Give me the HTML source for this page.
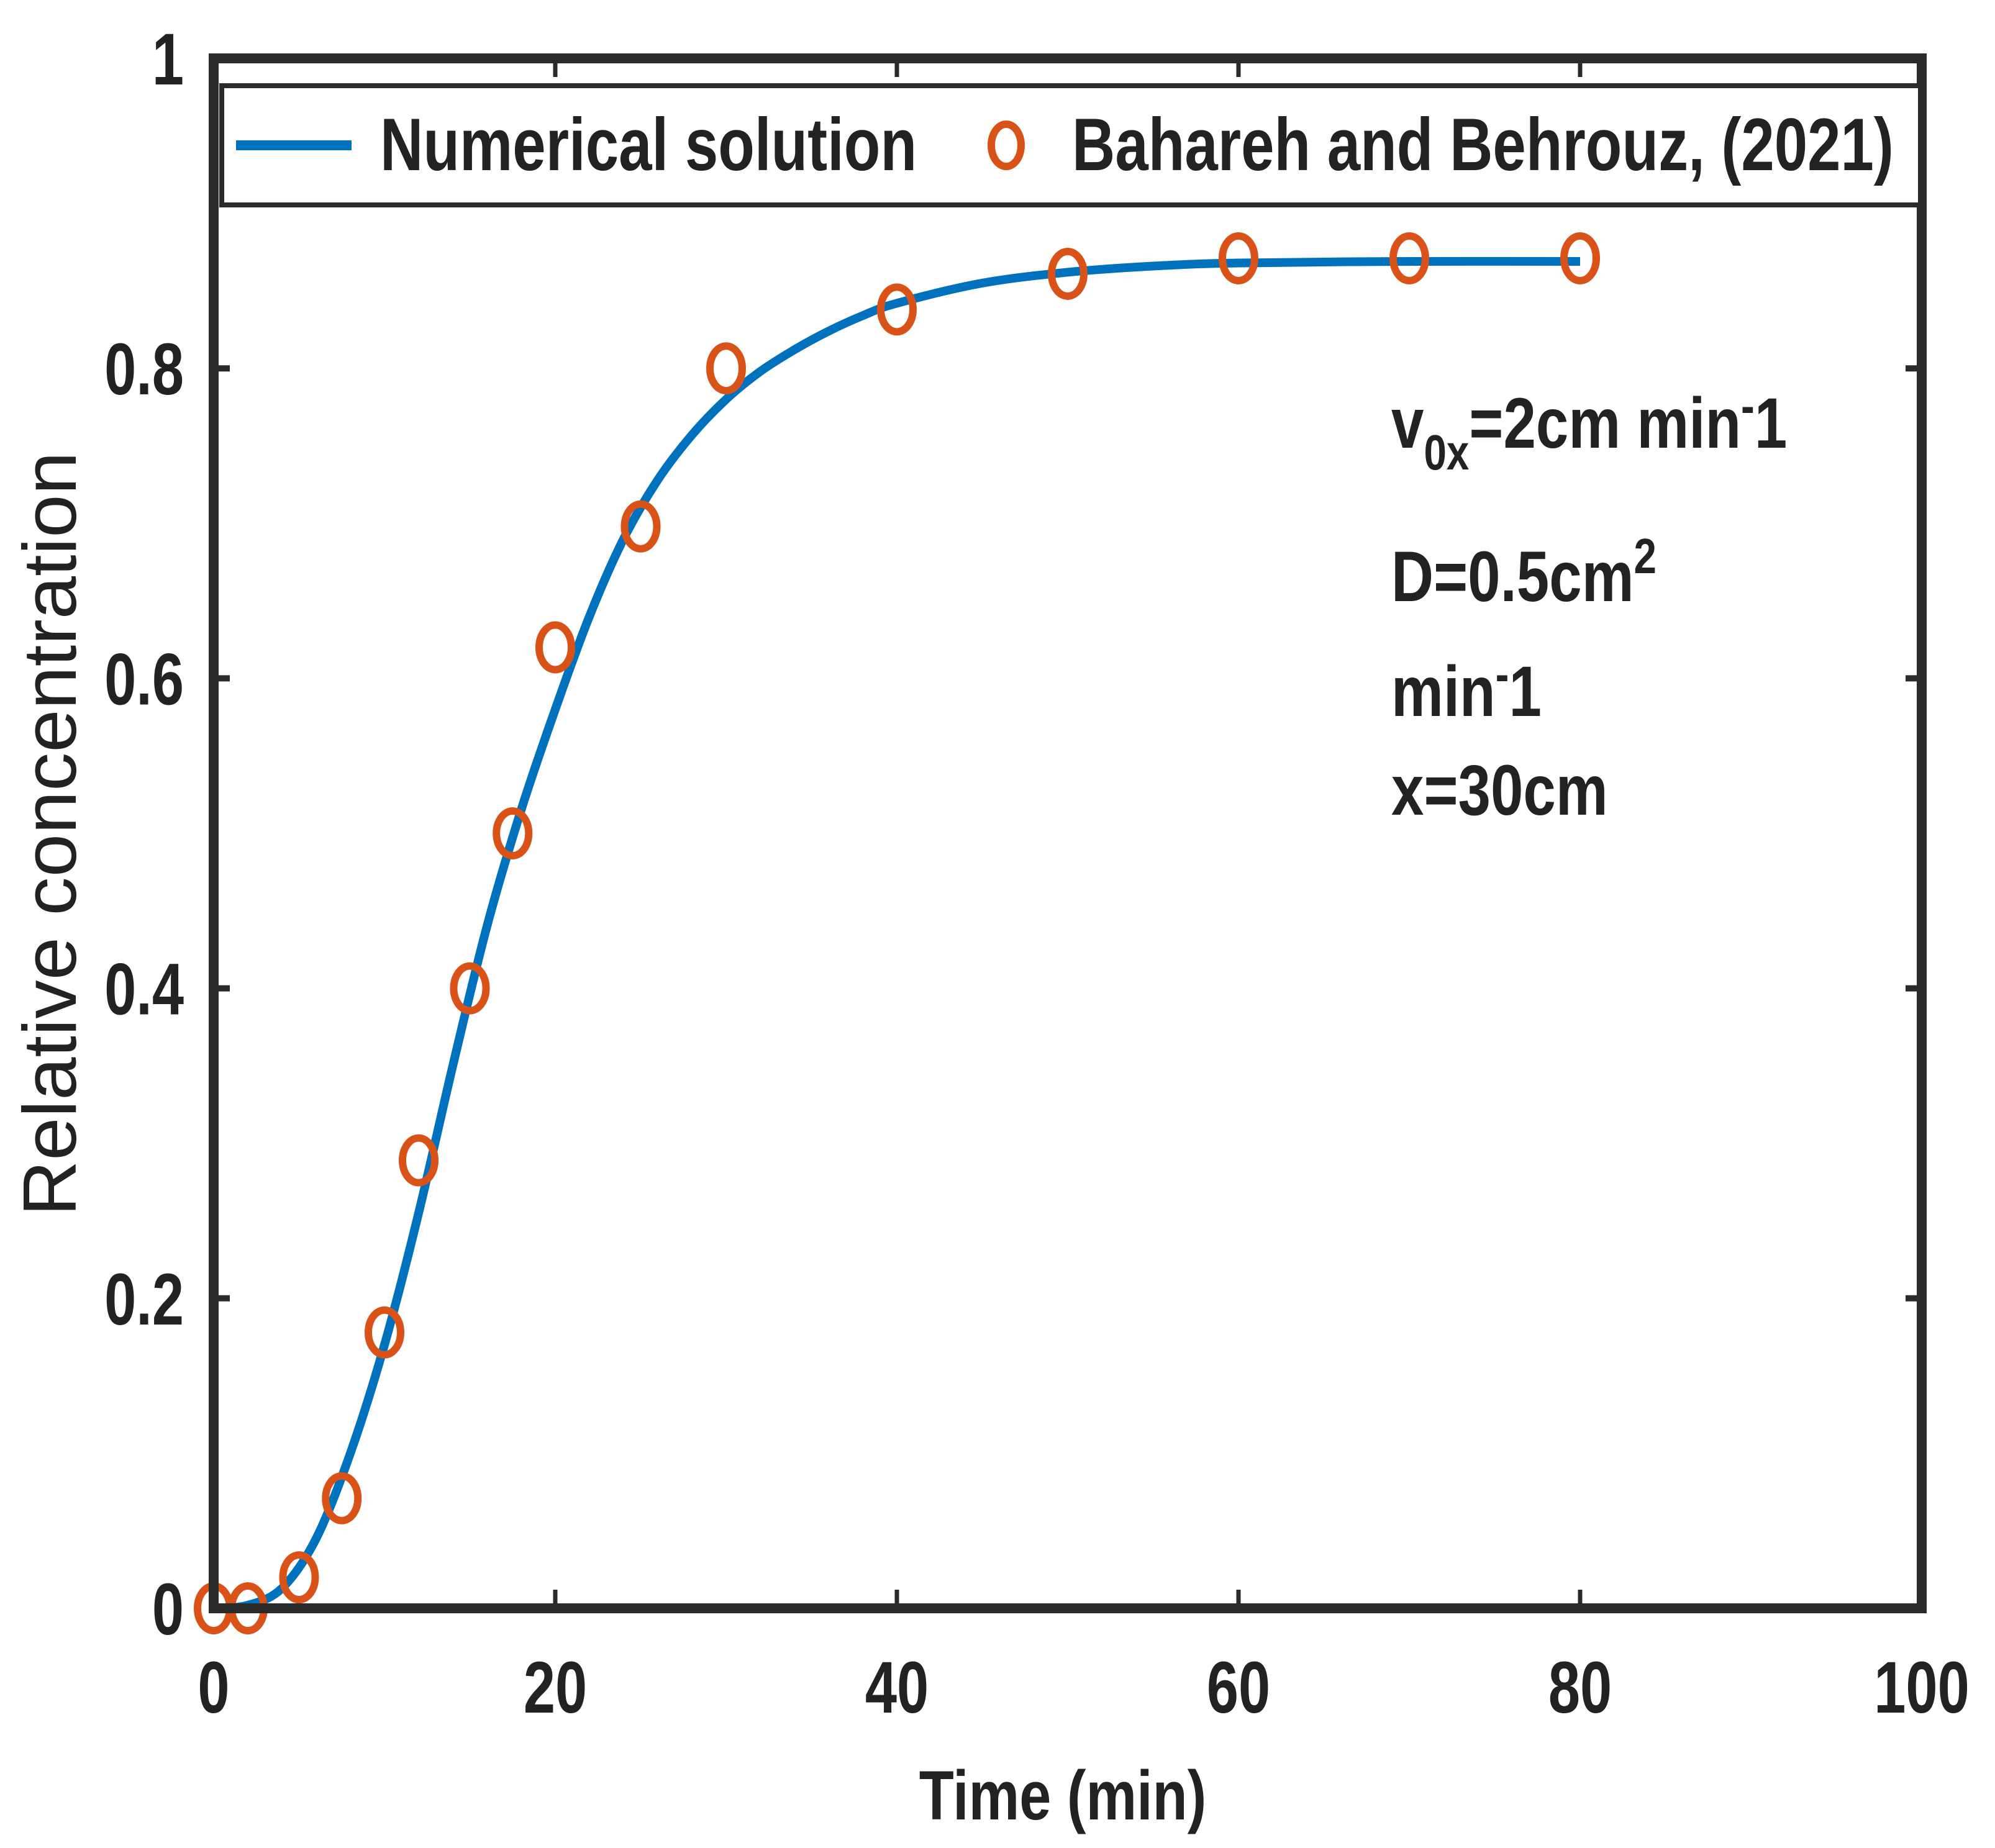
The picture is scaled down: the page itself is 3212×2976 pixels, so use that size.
<!DOCTYPE html>
<html><head><meta charset="utf-8"><style>
html,body{margin:0;padding:0;background:#fff;}
svg{display:block;}
text{font-family:"Liberation Sans",Arial,sans-serif;font-weight:bold;fill:#222;}
</style></head><body>
<svg id="chart" width="3212" height="2976" viewBox="0 0 3212 2976" xmlns="http://www.w3.org/2000/svg">
<g id="plot"></g>
</svg>
<script>
const xTicks = [0, 20, 40, 60, 80, 100];
const yTicks = [0, 0.2, 0.4, 0.6, 0.8, 1];
const yTickLabels = ["0", "0.2", "0.4", "0.6", "0.8", "1"];
const curveX = [0, 2, 4, 6, 8, 10, 12, 14, 16, 18, 20, 22, 24, 26, 28, 30, 32, 34, 36, 38, 40, 45, 50, 55, 60, 70, 80];
const curveY = [0, 0.002, 0.013, 0.045, 0.1, 0.17, 0.255, 0.35, 0.44, 0.515, 0.58, 0.64, 0.69, 0.728, 0.757, 0.78, 0.798, 0.812, 0.824, 0.834, 0.842, 0.855, 0.862, 0.866, 0.868, 0.869, 0.869];
const ptX = [0, 2, 5, 7.5, 10, 12, 15, 17.5, 20, 25, 30, 40, 50, 60, 70, 80];
const ptY = [0, 0, 0.02, 0.071, 0.178, 0.289, 0.40, 0.50, 0.62, 0.698, 0.80, 0.838, 0.861, 0.871, 0.871, 0.871];

const L = 344, R = 3094, T = 94, B = 2590;
const sx = v => L + (v - 0) / 100 * (R - L);
const sy = v => B - v * (B - T);
const NS = "http://www.w3.org/2000/svg";
const g = document.getElementById('plot');
function mk(tag, attrs, parent) {
  const e = document.createElementNS(NS, tag);
  for (const k in attrs) e.setAttribute(k, attrs[k]);
  (parent || g).appendChild(e);
  return e;
}

// smooth curve (Catmull-Rom)
const P = curveX.map((x, i) => [sx(x), sy(curveY[i])]);
let d = 'M' + P[0][0].toFixed(1) + ' ' + P[0][1].toFixed(1);
for (let i = 0; i < P.length - 1; i++) {
  const p0 = P[Math.max(0, i - 1)], p1 = P[i], p2 = P[i + 1], p3 = P[Math.min(P.length - 1, i + 2)];
  const c1 = [p1[0] + (p2[0] - p0[0]) / 6, p1[1] + (p2[1] - p0[1]) / 6];
  const c2 = [p2[0] - (p3[0] - p1[0]) / 6, p2[1] - (p3[1] - p1[1]) / 6];
  d += ` C${c1[0].toFixed(1)} ${c1[1].toFixed(1)} ${c2[0].toFixed(1)} ${c2[1].toFixed(1)} ${p2[0].toFixed(1)} ${p2[1].toFixed(1)}`;
}
const path = mk('path', {d: d, fill: 'none', stroke: '#0072BD', 'stroke-width': 14, 'stroke-linejoin': 'round'});



// points
ptX.forEach((x, i) => {
  const c = mk('ellipse', {cx: sx(x), cy: sy(ptY[i]), rx: 26, ry: 36, fill: 'none', stroke: '#D95319', 'stroke-width': 12});
  
  
});

// axes box
const box = mk('rect', {x: L, y: T, width: R - L, height: B - T, fill: 'none', stroke: '#2a2a2a', 'stroke-width': 16});



// x ticks
xTicks.forEach(v => {
  const x = sx(v);
  mk('line', {x1: x, y1: B, x2: x, y2: B - 30, stroke: '#2a2a2a', 'stroke-width': 7});
  mk('line', {x1: x, y1: T, x2: x, y2: T + 30, stroke: '#2a2a2a', 'stroke-width': 7});
  const t = mk('text', {x: 0, y: 0, 'font-size': 118, 'text-anchor': 'middle', transform: `translate(${x},2758) scale(0.78,1)`});
  t.textContent = v;
  
  
});
// y ticks
yTicks.forEach((v, i) => {
  const y = sy(v);
  mk('line', {x1: L, y1: y, x2: L + 26, y2: y, stroke: '#2a2a2a', 'stroke-width': 10});
  mk('line', {x1: R, y1: y, x2: R - 26, y2: y, stroke: '#2a2a2a', 'stroke-width': 10});
  const t = mk('text', {x: 0, y: 0, 'font-size': 118, 'text-anchor': 'end', transform: `translate(296,${y + 42}) scale(0.78,1)`});
  t.textContent = yTickLabels[i];
  
  
});
</script>
<svg style="position:absolute;left:0;top:0" width="3212" height="2976" viewBox="0 0 3212 2976" xmlns="http://www.w3.org/2000/svg">
<text font-size="112" text-anchor="middle" transform="translate(1711,2930) scale(0.82,1)">Time (min)</text>
<text font-size="122" text-anchor="middle" transform="translate(122,1343) rotate(-90) scale(1.02,1)" style="font-weight:normal">Relative concentration</text>
<g>
<rect x="357" y="138" width="2735" height="192" fill="#fff" stroke="#2a2a2a" stroke-width="8"/>
<line x1="380" y1="234" x2="566" y2="234" stroke="#0072BD" stroke-width="16"/>
<text font-size="120" transform="translate(612,274) scale(0.8,1)">Numerical solution</text>
<ellipse cx="1620" cy="234" rx="24" ry="34" fill="none" stroke="#D95319" stroke-width="12"/>
<text font-size="120" transform="translate(1726,274) scale(0.8,1)">Bahareh and Behrouz, (2021)</text>
</g>
<g font-size="115">
<text transform="translate(2240,721) scale(0.82,1)">v<tspan font-size="80" dy="35">0x</tspan><tspan dy="-35">=2cm min</tspan><tspan font-size="80" dy="-40">-</tspan><tspan dy="40">1</tspan></text>
<text transform="translate(2240,968) scale(0.82,1)">D=0.5cm<tspan font-size="80" dy="-45">2</tspan></text>
<text transform="translate(2240,1153) scale(0.82,1)">min<tspan font-size="80" dy="-40">-</tspan><tspan dy="40">1</tspan></text>
<text transform="translate(2240,1312) scale(0.82,1)">x=30cm</text>
</g>
</svg>
</body></html>
